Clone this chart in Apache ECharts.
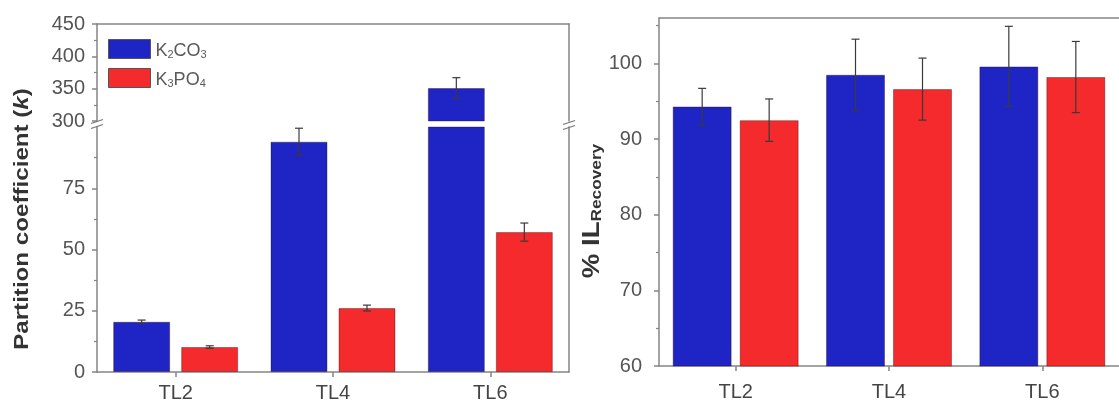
<!DOCTYPE html>
<html><head><meta charset="utf-8">
<script src="https://cdn.jsdelivr.net/npm/echarts@6/dist/echarts.min.js"></script>
<style>html,body{margin:0;padding:0;background:#fff}#c{width:1119px;height:408px}</style>
</head><body><div id="c"></div>
<script>
// ---------- data ----------
const categories = ['TL2', 'TL4', 'TL6'];
const seriesNames = ['K2CO3', 'K3PO4'];
// partition coefficient k
const kK2CO3 = [20.5, 94, 351];
const kK2CO3Err = [0.7, 5.5, 16];
const kK3PO4 = [10.2, 26.1, 57.1];
const kK3PO4Err = [0.5, 1.2, 3.7];
// % IL recovery
const recK2CO3 = [94.3, 98.5, 99.6];
const recK2CO3Err = [2.4, 4.7, 5.3];
const recK3PO4 = [92.5, 96.6, 98.2];
const recK3PO4Err = [2.8, 4.1, 4.7];
// axis ranges and tick labels
const kBreak = [100, 300];
const kMax = 450;
const kLowTicks = [0, 25, 50, 75];
const kLowMinor = [12.5, 37.5, 62.5, 87.5];
const kHighTicks = [300, 350, 400, 450];
const kHighMinor = [325, 375, 425];
const recMin = 60, recMax = 106;
const recTicks = [60, 70, 80, 90, 100];
const recMinor = [65, 75, 85, 95, 105];

// ---------- style / layout ----------
const FONT = '"Liberation Sans", Arial, sans-serif';
const AX = '#858585', LBL = '#555', TTL = '#333';
const BLUE = '#1f25c4', RED = '#f42a2c';
const gHi = {left: 97, top: 24, width: 472, height: 97};
const gLo = {left: 97, top: 127, width: 472, height: 245};
const gR = {left: 659, top: 18, width: 472, height: 348};
const barL = {w: 57, gap: 11};
const barR = {w: 59, gap: 8};

const chart = echarts.init(document.getElementById('c'), null, {renderer: 'canvas'});

const line = {show: true, onZero: false, lineStyle: {color: AX, width: 1.5}};
function yMain(grid, min, max, ticks, margin) {
  return {type: 'value', gridIndex: grid, min, max, position: 'left',
    axisLine: line, splitLine: {show: false},
    axisTick: {show: true, length: 5, customValues: ticks, lineStyle: {color: AX, width: 1.5}},
    axisLabel: {show: true, customValues: ticks, margin, color: LBL, fontSize: 20, fontFamily: FONT}};
}
function yMinor(grid, min, max, ticks) {
  return {type: 'value', gridIndex: grid, min, max, position: 'left',
    axisLine: {show: false}, splitLine: {show: false}, axisLabel: {show: false},
    axisTick: {show: true, length: 3, customValues: ticks, lineStyle: {color: AX, width: 1.2}}};
}
function yBorder(grid, min, max) {
  return {type: 'value', gridIndex: grid, min, max, position: 'right',
    axisLine: line, splitLine: {show: false}, axisLabel: {show: false}, axisTick: {show: false}};
}
function xCat(grid, labels, margin) {
  return {type: 'category', gridIndex: grid, data: categories, position: 'bottom',
    axisLine: line,
    axisTick: {show: labels, alignWithLabel: true, length: 5, lineStyle: {color: AX, width: 1.5}},
    axisLabel: {show: labels, margin, color: '#444', fontSize: 20, fontFamily: FONT}};
}
function xTop(grid) {
  return {type: 'category', gridIndex: grid, data: categories, position: 'top',
    axisLine: line, axisTick: {show: false}, axisLabel: {show: false}};
}

function bar(name, color, data, xi, yi, bw) {
  return {type: 'bar', name, xAxisIndex: xi, yAxisIndex: yi, data,
    barWidth: bw.w, barGap: (bw.gap / bw.w * 100) + '%', clip: true, silent: true,
    itemStyle: {color, borderColor: 'rgba(40,0,0,0.35)', borderWidth: 1}};
}
function errRender(bw) {
  const off = [-(bw.w + bw.gap) / 2, (bw.w + bw.gap) / 2];
  return function (params, api) {
    const i = api.value(0), v = api.value(1), e = api.value(2), s = api.value(3);
    const hi = api.coord([i, v + e]), lo = api.coord([i, v - e]);
    const x = hi[0] + off[s], cw = 4;
    const st = {stroke: '#3a3a3a', lineWidth: 1.2};
    return {type: 'group', children: [
      {type: 'line', shape: {x1: x, y1: hi[1], x2: x, y2: lo[1]}, style: st},
      {type: 'line', shape: {x1: x - cw, y1: hi[1], x2: x + cw, y2: hi[1]}, style: st},
      {type: 'line', shape: {x1: x - cw, y1: lo[1], x2: x + cw, y2: lo[1]}, style: st}
    ]};
  };
}
function errData(vals, errs, keep) {
  const out = [];
  vals.forEach((vs, s) => vs.forEach((v, i) => { if (keep(v)) out.push([i, v, errs[s][i], s]); }));
  return out;
}
function errSeries(xi, yi, data, bw) {
  return {type: 'custom', xAxisIndex: xi, yAxisIndex: yi, z: 5, silent: true,
    renderItem: errRender(bw), data};
}

const kVals = [kK2CO3, kK3PO4], kErrs = [kK2CO3Err, kK3PO4Err];
const rVals = [recK2CO3, recK3PO4], rErrs = [recK2CO3Err, recK3PO4Err];
const hiOnly = a => a.map(v => v > kBreak[1] ? v : '-');

const rich = {
  n: {fontSize: 18, lineHeight: 22, color: '#5a5a5a', fontFamily: FONT, verticalAlign: 'bottom'},
  s: {fontSize: 11, lineHeight: 12, padding: [12, 0, 0, 0], color: '#5a5a5a', fontFamily: FONT, verticalAlign: 'bottom'}
};

// break marks (decoration at the gap between axis segments)
const yGap = (gHi.top + gHi.height + gLo.top) / 2;
function breakMark(x, y) {
  const st = {stroke: '#777', lineWidth: 1.2};
  return [-2.5, 2.5].map(d => ({type: 'line', shape: {x1: x - 6, y1: y + d + 2, x2: x + 6, y2: y + d - 2}, style: st, z: 10}));
}

chart.setOption({
  animation: false,
  grid: [gHi, gLo, gR].map(g => Object.assign({containLabel: false}, g)),
  xAxis: [xTop(0), xCat(1, true, 11), xCat(2, true, 16), xTop(2)],
  yAxis: [
    yMain(0, kBreak[1], kMax, kHighTicks, 12), yMinor(0, kBreak[1], kMax, kHighMinor), yBorder(0, kBreak[1], kMax),
    yMain(1, 0, kBreak[0], kLowTicks, 12), yMinor(1, 0, kBreak[0], kLowMinor), yBorder(1, 0, kBreak[0]),
    yMain(2, recMin, recMax, recTicks, 17), yMinor(2, recMin, recMax, recMinor)
  ],
  legend: {left: 103, top: 32, orient: 'vertical', itemWidth: 42, itemHeight: 19, itemGap: 6, icon: 'rect',
    data: seriesNames, selectedMode: false,
    itemStyle: {borderColor: '#555', borderWidth: 1},
    formatter: n => '{n|' + n.replace(/(\d)/g, '}{s|$1}{n|') + '}',
    textStyle: {rich}},
  series: [
    bar(seriesNames[0], BLUE, kK2CO3, 1, 3, barL),
    bar(seriesNames[1], RED, kK3PO4, 1, 3, barL),
    bar(seriesNames[0], BLUE, hiOnly(kK2CO3), 0, 0, barL),
    bar(seriesNames[1], RED, hiOnly(kK3PO4), 0, 0, barL),
    errSeries(1, 3, errData(kVals, kErrs, v => v < kBreak[0]), barL),
    errSeries(0, 0, errData(kVals, kErrs, v => v > kBreak[1]), barL),
    bar(seriesNames[0] + ' ', BLUE, recK2CO3, 2, 6, barR),
    bar(seriesNames[1] + ' ', RED, recK3PO4, 2, 6, barR),
    errSeries(2, 6, errData(rVals, rErrs, () => true), barR)
  ],
  graphic: [
    {type: 'text', x: 22, y: 219, rotation: Math.PI / 2, scaleX: 1.15,
      style: {text: '{b|Partition coefficient (}{i|k}{b|)}', align: 'center', verticalAlign: 'middle',
        rich: {b: {fontSize: 21, fontWeight: 'bold', fontFamily: FONT, fill: TTL, color: TTL},
               i: {fontSize: 21, fontWeight: 'bold', fontStyle: 'italic', fontFamily: FONT, fill: TTL, color: TTL}}}},
    {type: 'text', x: 591, y: 211, rotation: Math.PI / 2, scaleX: 1.15,
      style: {text: '{b|% IL}{s|Recovery}', align: 'center', verticalAlign: 'middle',
        rich: {b: {fontSize: 24, lineHeight: 26, fontWeight: 'bold', fontFamily: FONT, fill: TTL, color: TTL, verticalAlign: 'bottom'},
               s: {fontSize: 15, lineHeight: 15, padding: [12, 0, 0, 0], fontWeight: 'bold', fontFamily: FONT, fill: TTL, color: TTL, verticalAlign: 'bottom'}}}},
    ...breakMark(gHi.left, yGap),
    ...breakMark(gHi.left + gHi.width, yGap + 1)
  ]
});
</script></body></html>
